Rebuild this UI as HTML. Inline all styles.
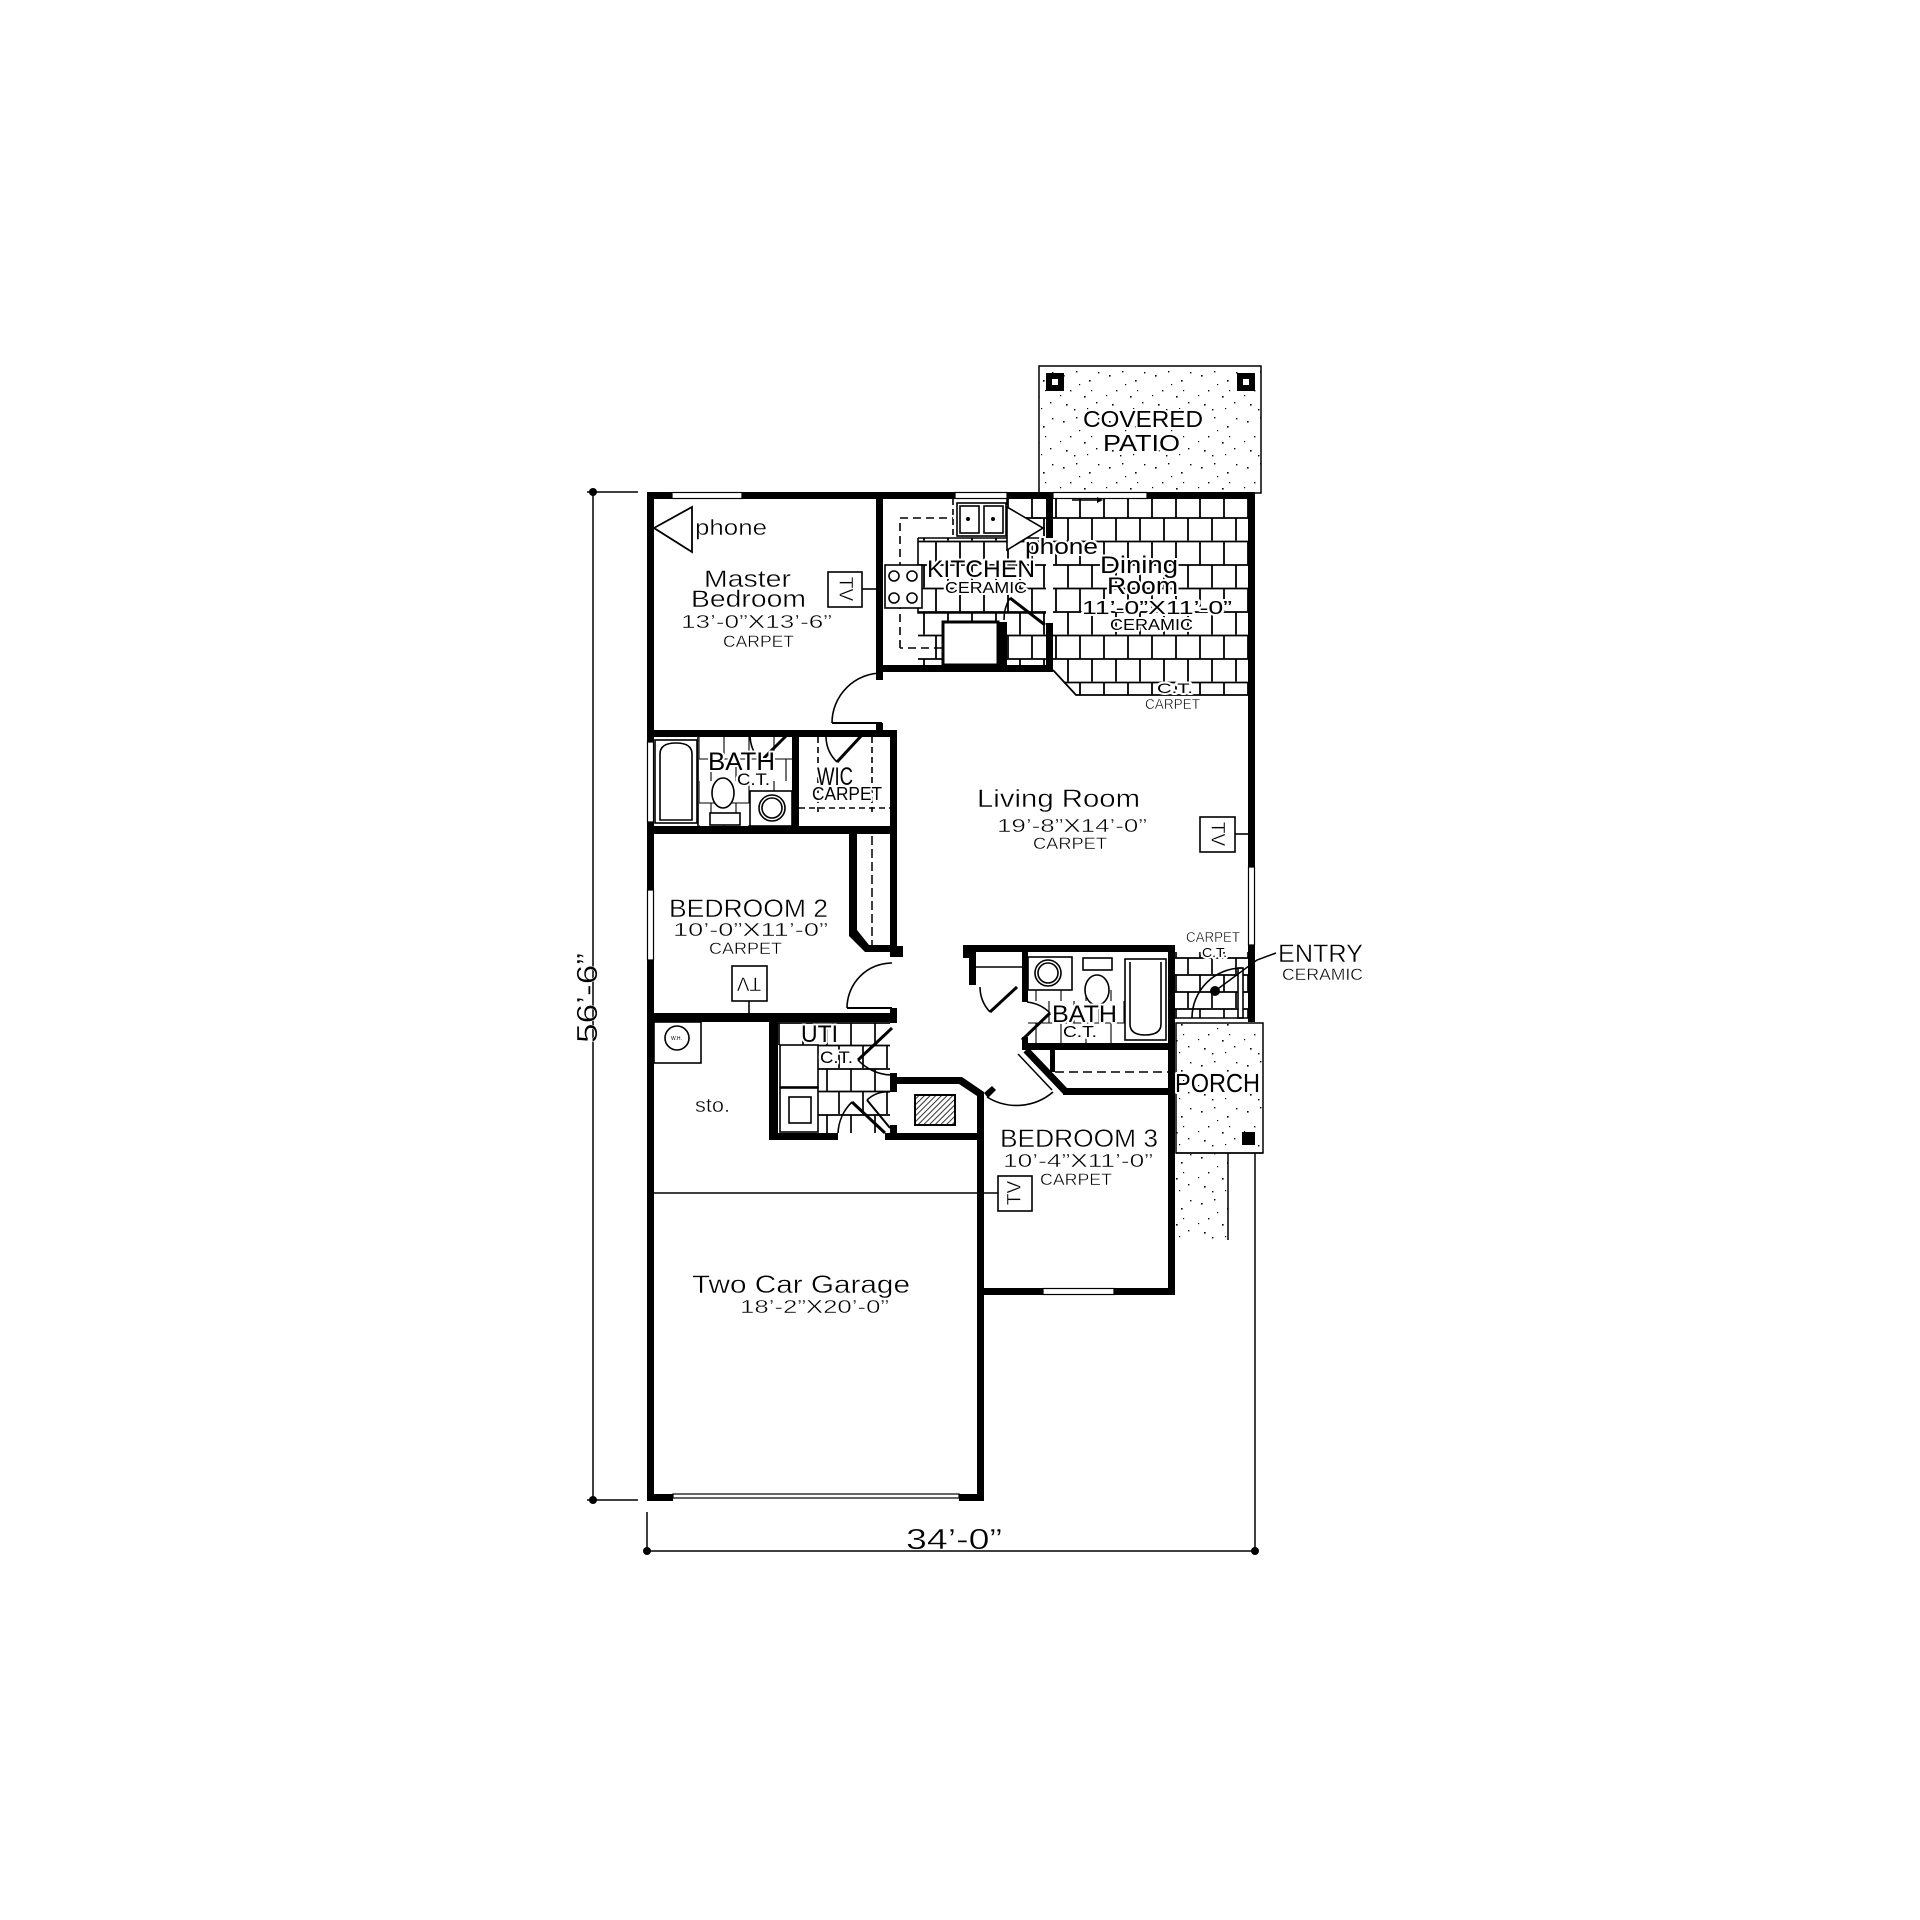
<!DOCTYPE html>
<html><head><meta charset="utf-8"><style>
html,body{margin:0;padding:0;background:#fff;}
svg{display:block}
text{font-family:"Liberation Sans",sans-serif;fill:#000;stroke:#fff;stroke-width:0.4}
.h{stroke:#fff;stroke-width:4;paint-order:stroke;stroke-linejoin:round}
</style></head><body>
<svg width="1920" height="1920" viewBox="0 0 1920 1920" xmlns="http://www.w3.org/2000/svg">
<defs>
<pattern id="brick" patternUnits="userSpaceOnUse" x="1055" y="493.5" width="24" height="47">
<path d="M0,1H24M0,24.5H24M1,1V24.5M13,24.5V47" stroke="#000" stroke-width="1.8" fill="none"/>
</pattern>
<pattern id="tile2" patternUnits="userSpaceOnUse" x="1175" y="940" width="24" height="34">
<path d="M0,1H24M0,18H24M1,1V18M13,18V34" stroke="#000" stroke-width="1.7" fill="none"/>
</pattern>
<pattern id="tile3" patternUnits="userSpaceOnUse" x="778" y="1022" width="24" height="46">
<path d="M0,1H24M0,23.5H24M1,1V23.5M13,23.5V46" stroke="#000" stroke-width="1.7" fill="none"/>
</pattern>
<pattern id="tileL" patternUnits="userSpaceOnUse" x="698" y="737" width="25" height="44">
<path d="M0,22H25M1,0V22M13,22V44" stroke="#000" stroke-width="1.1" fill="none"/>
</pattern>
<pattern id="stip" patternUnits="userSpaceOnUse" width="46" height="46">
<g fill="#000">
<rect x="5" y="7" width="1.6" height="1.6"/><rect x="18" y="3" width="1.4" height="1.4"/>
<rect x="31" y="12" width="1.6" height="1.6"/><rect x="12" y="22" width="1.4" height="1.4"/>
<rect x="26" y="28" width="1.6" height="1.6"/><rect x="38" y="34" width="1.4" height="1.4"/>
<rect x="8" y="36" width="1.6" height="1.6"/><rect x="21" y="16" width="1.2" height="1.2"/>
<rect x="40" y="4" width="1.4" height="1.4"/><rect x="33" y="22" width="1.2" height="1.2"/>
<rect x="16" y="41" width="1.4" height="1.4"/><rect x="2" y="27" width="1.2" height="1.2"/>
<rect x="29" y="40" width="1.2" height="1.2"/>
</g>
</pattern>
<pattern id="hatch" patternUnits="userSpaceOnUse" width="4" height="4" patternTransform="rotate(45)">
<line x1="0" y1="0" x2="0" y2="4" stroke="#000" stroke-width="1.6"/>
</pattern>
<clipPath id="cDining"><polygon points="1053,499 1248,499 1248,695 1076,695 1053,672"/></clipPath>
<clipPath id="cKitchen"><path d="M918,538H1046V665H918Z M1007,499H1046V538H1007Z"/></clipPath>
<clipPath id="cEntry"><rect x="1175" y="952" width="73" height="66"/></clipPath>
<clipPath id="cUti"><path d="M778,1022H890V1133H818V1045H778Z"/></clipPath>
<clipPath id="cBath1"><path d="M699,737H792V791H750V826H699Z"/></clipPath>
<clipPath id="cBath2"><rect x="1028" y="990" width="97" height="53"/></clipPath>
</defs>

<rect x="1039" y="366" width="222" height="127" fill="url(#stip)" stroke="#000" stroke-width="1.5"/>
<rect x="1046" y="373" width="18" height="18" fill="#000"/><rect x="1052" y="379" width="6" height="6" fill="#fff"/>
<rect x="1237" y="373" width="18" height="18" fill="#000"/><rect x="1243" y="379" width="6" height="6" fill="#fff"/>
<rect x="1176" y="1023" width="87" height="130" fill="url(#stip)" stroke="#000" stroke-width="1.5"/>
<rect x="1176" y="1153" width="52" height="87" fill="url(#stip)"/>
<line x1="1228" y1="1153" x2="1228" y2="1240" stroke="#000" stroke-width="1.5"/>
<rect x="1242" y="1132" width="13" height="13" fill="#000"/>

<rect x="1053" y="499" width="195" height="196" fill="url(#brick)" clip-path="url(#cDining)"/>
<polyline points="1053,670 1076,695 1248,695" fill="none" stroke="#000" stroke-width="1.8"/>
<rect x="918" y="499" width="128" height="166" fill="url(#brick)" clip-path="url(#cKitchen)"/>
<rect x="1175" y="952" width="73" height="66" fill="url(#tile2)" clip-path="url(#cEntry)"/>
<rect x="778" y="1022" width="112" height="111" fill="url(#tile3)" clip-path="url(#cUti)"/>
<rect x="699" y="737" width="93" height="89" fill="url(#tileL)" clip-path="url(#cBath1)"/>
<rect x="1028" y="990" width="97" height="53" fill="url(#tileL)" clip-path="url(#cBath2)"/>

<g stroke="#000" fill="none" stroke-width="1.6">
<path d="M918,538H1046M918,538V613H1046"/>
<path d="M900,648V518H953M942,648H900M1007,518H1046" stroke-dasharray="8,5"/>
<line x1="953" y1="499" x2="953" y2="538" stroke-dasharray="6,4"/>
<line x1="1007" y1="499" x2="1007" y2="538" stroke-dasharray="6,4"/>
<rect x="957" y="503" width="49" height="33" fill="#fff"/>
<rect x="960" y="506" width="19" height="27"/><rect x="984" y="506" width="19" height="27"/>
<rect x="885" y="565" width="37" height="43" fill="#fff"/>
<circle cx="894" cy="576" r="5"/><circle cx="912" cy="576" r="5"/>
<circle cx="894" cy="598" r="5"/><circle cx="912" cy="598" r="5"/>
<rect x="943" y="622" width="55" height="43" fill="#fff" stroke-width="3"/>
<polygon points="1007,507 1043,528 1007,550" fill="#fff"/>
<path d="M1010,598 L1045,625" stroke-width="3"/>
<path d="M1010,598 A40,40 0 0 0 1004,620"/>
</g>
<circle cx="968" cy="519" r="2" fill="#000"/><circle cx="993" cy="519" r="2" fill="#000"/>

<g stroke="#000" fill="none" stroke-width="1.6">
<rect x="655" y="740" width="42" height="83" fill="#fff"/>
<path d="M660,820V754Q660,743 676,743Q692,743 692,754V820Z"/>
<line x1="698" y1="737" x2="698" y2="826"/>
<ellipse cx="723" cy="793" rx="11" ry="15" fill="#fff"/>
<rect x="710" y="813" width="30" height="12" fill="#fff"/>
<rect x="750" y="791" width="42" height="35" fill="#fff"/>
<circle cx="772" cy="808" r="13"/><circle cx="772" cy="808" r="10"/>
<line x1="760" y1="762" x2="787" y2="735" stroke-width="3"/>
<path d="M750,735 A37,37 0 0 0 761,761"/>
<line x1="837" y1="762" x2="862" y2="735" stroke-width="3"/>
<path d="M826,737 A36,36 0 0 0 837,762"/>
<path d="M818,737V812M872,737V812M799,808H890" stroke-dasharray="6,4"/>
</g>

<g stroke="#000" fill="none" stroke-width="1.6">
<rect x="1028" y="957" width="44" height="33" fill="#fff"/>
<circle cx="1048" cy="973" r="13"/><circle cx="1048" cy="973" r="10"/>
<rect x="1083" y="958" width="29" height="12" fill="#fff"/>
<ellipse cx="1097" cy="990" rx="12" ry="15" fill="#fff"/>
<rect x="1125" y="959" width="41" height="81" fill="#fff"/>
<path d="M1130,962V1024Q1130,1035 1145,1035Q1161,1035 1161,1024V962"/>
<line x1="1022" y1="1040" x2="1050" y2="1013" stroke-width="3"/>
<path d="M1027,1002 A38,38 0 0 1 1050,1013"/>
<line x1="976" y1="967" x2="1022" y2="967"/>
<line x1="990" y1="1012" x2="1017" y2="987" stroke-width="3"/>
<path d="M980,987 A37,37 0 0 0 990,1012"/>
<line x1="1055" y1="1072" x2="1168" y2="1072" stroke-dasharray="9,5"/>
<path d="M1053,1092 A56,56 0 0 1 987,1097"/>
<line x1="1018" y1="1054" x2="1052" y2="1090" stroke-width="1.5"/>
</g>

<g stroke="#000" fill="none" stroke-width="1.6">
<rect x="780" y="1045" width="38" height="42" fill="#fff"/>
<rect x="780" y="1088" width="38" height="44" fill="#fff"/>
<rect x="789" y="1097" width="22" height="26"/>
<line x1="892" y1="1028" x2="858" y2="1060" stroke-width="3"/>
<path d="M858,1060 A47,47 0 0 0 892,1075"/>
<line x1="885" y1="1133" x2="852" y2="1102" stroke-width="3"/>
<path d="M852,1102 A46,46 0 0 0 838,1133"/>
<line x1="867" y1="1100" x2="890" y2="1128" stroke-width="2"/>
<path d="M867,1100 A30,30 0 0 1 890,1092"/>
<rect x="915" y="1095" width="40" height="30" fill="url(#hatch)" stroke-width="2"/>
<rect x="654" y="1022" width="47" height="41"/>
<circle cx="677" cy="1038" r="12"/>
</g>
<text x="671" y="1040" font-size="5" style="stroke:none">W.H.</text>

<line x1="872" y1="836" x2="872" y2="945" stroke="#000" stroke-width="1.5" stroke-dasharray="9,4"/>

<g stroke="#000" fill="none" stroke-width="1.6">
<line x1="832" y1="723" x2="882" y2="723" stroke-width="2"/>
<path d="M832,723 A50,50 0 0 1 882,673"/>
<line x1="847" y1="1008" x2="892" y2="1008" stroke-width="2"/>
<path d="M847,1008 A45,45 0 0 1 892,963"/>
<rect x="1238" y="968" width="5" height="50" fill="#fff"/>
<path d="M1192,1018 A50,50 0 0 1 1242,968"/>
<line x1="1175" y1="1018" x2="1248" y2="1018"/>
<polyline points="1215,991 1257,960 1276,953" stroke-width="1.5"/>
</g>
<circle cx="1215" cy="991" r="5" fill="#000"/>

<g fill="#000">
<rect x="647" y="492" width="25" height="7"/>
<rect x="742" y="492" width="213" height="7"/>
<rect x="1007" y="492" width="46" height="7"/>
<rect x="1147" y="492" width="108" height="7"/>
<rect x="647" y="492" width="7" height="250"/>
<rect x="647" y="822" width="7" height="68"/>
<rect x="647" y="960" width="7" height="541"/>
<rect x="876" y="492" width="7" height="188"/>
<rect x="876" y="723" width="7" height="14"/>
<rect x="876" y="665" width="177" height="7"/>
<rect x="1046" y="492" width="7" height="46"/>
<rect x="1046" y="623" width="7" height="49"/>
<rect x="998" y="622" width="9" height="50"/>
<rect x="1248" y="492" width="7" height="375"/>
<rect x="1248" y="945" width="7" height="77"/>
<rect x="647" y="730" width="250" height="7"/>
<rect x="792" y="730" width="7" height="103"/>
<rect x="890" y="730" width="7" height="103"/>
<rect x="647" y="826" width="250" height="8"/>
<polygon points="849,834 857,834 857,930 869,945 897,945 897,952 865,952 849,936"/>
<rect x="890" y="834" width="7" height="123"/>
<rect x="890" y="946" width="13" height="11"/>
<rect x="647" y="1013" width="250" height="9"/>
<rect x="890" y="1008" width="7" height="15"/>
<rect x="769" y="1013" width="9" height="127"/>
<rect x="769" y="1133" width="69" height="7"/>
<rect x="885" y="1133" width="99" height="7"/>
<polygon points="890,1077 962,1077 984,1092 984,1100 977,1100 977,1096 959,1084 890,1084"/>
<rect x="890" y="1073" width="7" height="19"/>
<rect x="890" y="1125" width="7" height="15"/>
<polygon points="984,1093 992,1086 996,1090 988,1098"/>
<rect x="977" y="1093" width="7" height="408"/>
<rect x="647" y="1494" width="26" height="7"/>
<rect x="959" y="1494" width="25" height="7"/>
<rect x="977" y="1288" width="66" height="7"/>
<rect x="1114" y="1288" width="61" height="7"/>
<rect x="1168" y="945" width="7" height="350"/>
<rect x="963" y="945" width="212" height="7"/>
<rect x="963" y="945" width="13" height="13"/>
<rect x="969" y="958" width="7" height="27"/>
<rect x="1022" y="945" width="6" height="57"/>
<rect x="1022" y="1037" width="6" height="13"/>
<rect x="1022" y="1043" width="153" height="7"/>
<rect x="1050" y="1050" width="5" height="22"/>
<rect x="1063" y="1088" width="107" height="7"/>
<line x1="1026" y1="1050" x2="1066" y2="1092" stroke="#000" stroke-width="7"/>
</g>

<g fill="#fff" stroke="#000" stroke-width="1.2">
<rect x="672" y="492.5" width="70" height="6"/>
<rect x="955" y="492.5" width="52" height="6"/>
<rect x="1053" y="492.5" width="94" height="6"/>
<rect x="647.5" y="742" width="6" height="80"/>
<rect x="647.5" y="890" width="6" height="70"/>
<rect x="1248.5" y="867" width="6" height="78"/>
<rect x="1043" y="1288.5" width="71" height="6"/>
<rect x="673" y="1494" width="286" height="4"/>
</g>
<line x1="1072" y1="500" x2="1097" y2="500" stroke="#000" stroke-width="1.5"/>
<polygon points="1097,497 1103,500 1097,503" fill="#000"/>

<g stroke="#000" fill="#fff" stroke-width="1.6">
<rect x="828" y="572" width="34" height="35"/>
<line x1="862" y1="589" x2="876" y2="589"/>
<rect x="1200" y="817" width="35" height="35"/>
<line x1="1235" y1="834" x2="1248" y2="834"/>
<rect x="732" y="966" width="35" height="35"/>
<line x1="749" y1="1001" x2="749" y2="1013"/>
<rect x="998" y="1176" width="34" height="35"/>
</g>
<g font-size="19">
<text x="845" y="589" text-anchor="middle" dominant-baseline="central" transform="rotate(90 845 589)">TV</text>
<text x="1217" y="834" text-anchor="middle" dominant-baseline="central" transform="rotate(90 1217 834)">TV</text>
<text x="749" y="983" text-anchor="middle" dominant-baseline="central" transform="rotate(180 749 983)">TV</text>
<text x="1015" y="1193" text-anchor="middle" dominant-baseline="central" transform="rotate(-90 1015 1193)">TV</text>
</g>

<polygon points="654,528 692,507 692,552" fill="none" stroke="#000" stroke-width="1.8"/>

<line x1="654" y1="1193" x2="998" y2="1193" stroke="#000" stroke-width="1.5"/>

<g stroke="#000" stroke-width="1.5">
<line x1="593" y1="492" x2="593" y2="1500"/>
<line x1="587" y1="492" x2="638" y2="492"/>
<line x1="587" y1="1500" x2="638" y2="1500"/>
<line x1="647" y1="1551" x2="1255" y2="1551"/>
<line x1="647" y1="1512" x2="647" y2="1551"/>
<line x1="1255" y1="1153" x2="1255" y2="1551"/>
<line x1="1176" y1="1153" x2="1263" y2="1153"/>
</g>
<g fill="#000">
<circle cx="593" cy="492" r="4"/><circle cx="593" cy="1500" r="4"/>
<circle cx="647" cy="1551" r="4"/><circle cx="1255" cy="1551" r="4"/>
</g>

<g>
<text x="695" y="535" font-size="22" textLength="72" lengthAdjust="spacingAndGlyphs">phone</text>
<text x="704" y="587" font-size="24" textLength="87" lengthAdjust="spacingAndGlyphs">Master</text>
<text x="691" y="607" font-size="24" textLength="115" lengthAdjust="spacingAndGlyphs">Bedroom</text>
<text x="681" y="628" font-size="18" textLength="151" lengthAdjust="spacingAndGlyphs">13’-0”X13’-6”</text>
<text x="723" y="647" font-size="17" textLength="71" lengthAdjust="spacingAndGlyphs">CARPET</text>

<text class="h" x="927" y="577" font-size="24" textLength="108" lengthAdjust="spacingAndGlyphs">KITCHEN</text>
<text class="h" x="945" y="593" font-size="16" textLength="82" lengthAdjust="spacingAndGlyphs">CERAMIC</text>
<text class="h" x="1025" y="554" font-size="22" textLength="73" lengthAdjust="spacingAndGlyphs">phone</text>

<text class="h" x="1100" y="573" font-size="24" textLength="78" lengthAdjust="spacingAndGlyphs">Dining</text>
<text class="h" x="1107" y="594" font-size="24" textLength="71" lengthAdjust="spacingAndGlyphs">Room</text>
<text class="h" x="1082" y="614" font-size="18" textLength="150" lengthAdjust="spacingAndGlyphs">11’-0”X11’-0”</text>
<text class="h" x="1110" y="630" font-size="16" textLength="83" lengthAdjust="spacingAndGlyphs">CERAMIC</text>
<text class="h" x="1157" y="693" font-size="14" textLength="36" lengthAdjust="spacingAndGlyphs">C.T.</text>
<text x="1145" y="709" font-size="15" textLength="55" lengthAdjust="spacingAndGlyphs">CARPET</text>

<text class="h" x="1083" y="427" font-size="23" textLength="120" lengthAdjust="spacingAndGlyphs">COVERED</text>
<text class="h" x="1103" y="451" font-size="23" textLength="77" lengthAdjust="spacingAndGlyphs">PATIO</text>

<text class="h" x="708" y="770" font-size="25" textLength="67" lengthAdjust="spacingAndGlyphs">BATH</text>
<text class="h" x="737" y="785" font-size="17" textLength="33" lengthAdjust="spacingAndGlyphs">C.T.</text>
<text class="h" x="817" y="785" font-size="25" textLength="36" lengthAdjust="spacingAndGlyphs">WIC</text>
<text class="h" x="812" y="800" font-size="18" textLength="70" lengthAdjust="spacingAndGlyphs">CARPET</text>

<text x="977" y="807" font-size="25" textLength="163" lengthAdjust="spacingAndGlyphs">Living Room</text>
<text x="997" y="832" font-size="18" textLength="150" lengthAdjust="spacingAndGlyphs">19’-8”X14’-0”</text>
<text x="1033" y="849" font-size="17" textLength="74" lengthAdjust="spacingAndGlyphs">CARPET</text>

<text x="669" y="917" font-size="25" textLength="159" lengthAdjust="spacingAndGlyphs">BEDROOM  2</text>
<text x="673" y="936" font-size="18" textLength="155" lengthAdjust="spacingAndGlyphs">10’-0”X11’-0”</text>
<text x="709" y="954" font-size="17" textLength="73" lengthAdjust="spacingAndGlyphs">CARPET</text>

<text x="695" y="1112" font-size="20" textLength="35" lengthAdjust="spacingAndGlyphs">sto.</text>
<text class="h" x="801" y="1042" font-size="24" textLength="37" lengthAdjust="spacingAndGlyphs">UTI</text>
<text class="h" x="820" y="1063" font-size="17" textLength="33" lengthAdjust="spacingAndGlyphs">C.T.</text>

<text class="h" x="1052" y="1022" font-size="24" textLength="65" lengthAdjust="spacingAndGlyphs">BATH</text>
<text class="h" x="1063" y="1037" font-size="16" textLength="34" lengthAdjust="spacingAndGlyphs">C.T.</text>

<text x="1186" y="942" font-size="15" textLength="54" lengthAdjust="spacingAndGlyphs">CARPET</text>
<text class="h" x="1202" y="957" font-size="13" textLength="25" lengthAdjust="spacingAndGlyphs">C.T.</text>
<text x="1278" y="962" font-size="25" textLength="85" lengthAdjust="spacingAndGlyphs">ENTRY</text>
<text x="1282" y="980" font-size="17" textLength="81" lengthAdjust="spacingAndGlyphs">CERAMIC</text>
<text class="h" x="1175" y="1092" font-size="26" textLength="85" lengthAdjust="spacingAndGlyphs">PORCH</text>

<text x="1000" y="1147" font-size="25" textLength="158" lengthAdjust="spacingAndGlyphs">BEDROOM  3</text>
<text x="1003" y="1167" font-size="18" textLength="150" lengthAdjust="spacingAndGlyphs">10’-4”X11’-0”</text>
<text x="1040" y="1185" font-size="17" textLength="72" lengthAdjust="spacingAndGlyphs">CARPET</text>

<text x="692" y="1293" font-size="25" textLength="218" lengthAdjust="spacingAndGlyphs">Two  Car  Garage</text>
<text x="740" y="1313" font-size="18" textLength="149" lengthAdjust="spacingAndGlyphs">18’-2”X20’-0”</text>

<text x="906" y="1549" font-size="29" textLength="96" lengthAdjust="spacingAndGlyphs">34’-0”</text>
<text x="588" y="998" font-size="29" text-anchor="middle" textLength="90" lengthAdjust="spacingAndGlyphs" transform="rotate(-90 588 998)" dominant-baseline="central">56’-6”</text>
</g>
</svg>
</body></html>
